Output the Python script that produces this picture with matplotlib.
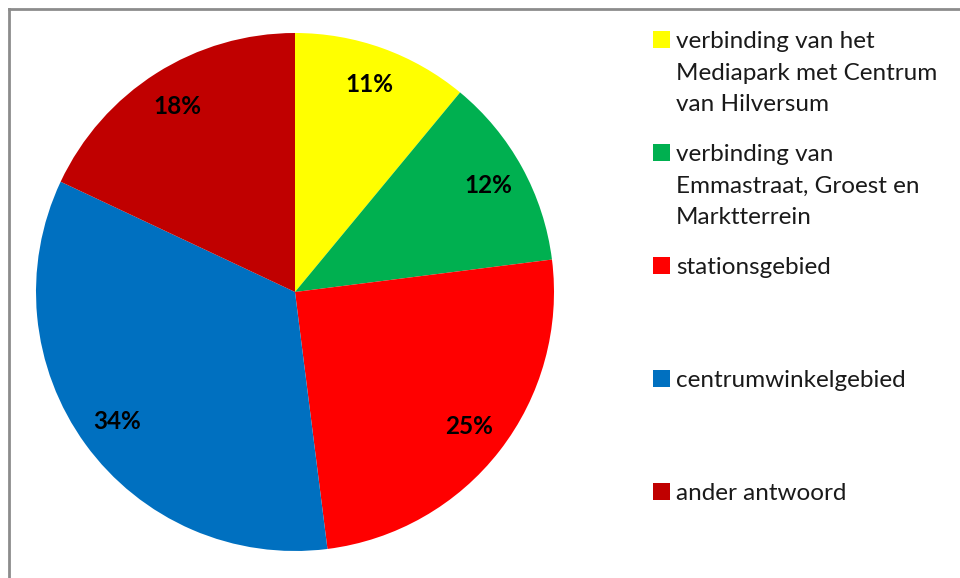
import matplotlib.pyplot as plt
from matplotlib.patches import Rectangle
from matplotlib.lines import Line2D

# survey answers, clockwise from 12 o'clock
labels = [
    "verbinding van het\nMediapark met Centrum\nvan Hilversum",
    "verbinding van\nEmmastraat, Groest en\nMarktterrein",
    "stationsgebied",
    "centrumwinkelgebied",
    "ander antwoord",
]
shares = [11, 12, 25, 34, 18]
colors = ["#FFFF00", "#00B050", "#FF0000", "#0070C0", "#C00000"]

W, H = 960, 578
fig = plt.figure(figsize=(W / 100, H / 100), dpi=100)
fig.patch.set_facecolor("white")

# pie: center (295, 292) px, radius 259 px
cx, cy, r = 295, 292, 259
ax = fig.add_axes([(cx - r) / W, (H - cy - r) / H, 2 * r / W, 2 * r / H])
wedges, texts, autotexts = ax.pie(
    shares, colors=colors, startangle=90, counterclock=False,
    autopct="%d%%", pctdistance=0.85,
    wedgeprops=dict(linewidth=0),
    textprops=dict(fontsize=17.5, fontweight="bold", family="Lato", color="black"),
)
ax.set_xlim(-1, 1)
ax.set_ylim(-1, 1)
ax.set_aspect("equal")

# outer frame (only left and top edges are visible)
fig.add_artist(Line2D([8.5 / W, 8.5 / W], [0, 1 - 9 / H], transform=fig.transFigure,
                      color="#8c8c8c", lw=2))
fig.add_artist(Line2D([8.5 / W, 1], [1 - 9 / H, 1 - 9 / H], transform=fig.transFigure,
                      color="#8c8c8c", lw=2))

# legend, drawn by hand: one slot every 113 px
for i, (lab, col) in enumerate(zip(labels, colors)):
    y = 40 + i * 113
    fig.add_artist(Rectangle((653 / W, 1 - (y + 8) / H), 17 / W, 17 / H,
                             transform=fig.transFigure, facecolor=col,
                             edgecolor="none"))
    fig.text(676 / W, 1 - (y - 9) / H, lab, ha="left", va="top",
             fontsize=17.5, family="Lato", color="#1a1a1a", linespacing=1.63)

fig.savefig("out.png", dpi=100)
